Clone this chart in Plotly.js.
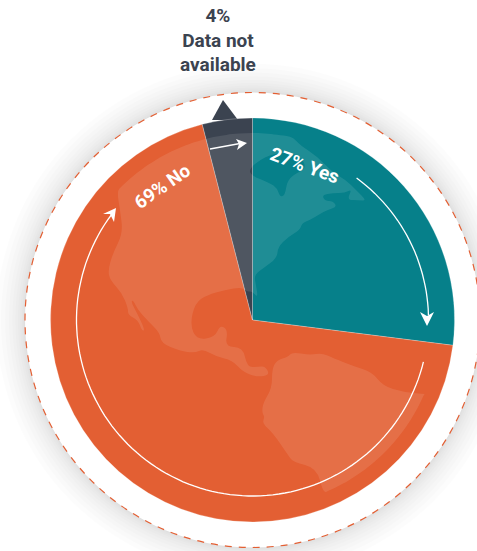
<!DOCTYPE html>
<html><head><meta charset="utf-8">
<script src="https://cdn.plot.ly/plotly-3.0.1.min.js"></script>
<style>
html,body{margin:0;padding:0;background:#fff;overflow:hidden}
#chart{position:absolute;left:0;top:0;width:477px;height:551px}
</style></head><body>
<div id="chart"></div>
<script>
// Data
const categories = ['Yes','No','Data not available'];
const values = [27,69,4];
const colors = ['#06808A','#E35F33','#3B4350'];

// Picture geometry
const W=477,H=551,CX=252.5,CY=320,R=202,GLOBE=187,ARC=176,RING=227.5;
const pt=(r,deg)=>{const a=deg*Math.PI/180;return [CX+r*Math.sin(a),CY-r*Math.cos(a)];};
const angle=(p)=>Math.atan2(p[0]-CX,CY-p[1])*180/Math.PI;
const arcPts=(r,a0,a1)=>{const n=Math.max(2,Math.ceil(Math.abs(a1-a0)/2));const o=[];for(let i=0;i<=n;i++)o.push(pt(r,a0+(a1-a0)*i/n));return o;};
const f=(p)=>p[0].toFixed(1)+','+p[1].toFixed(1);
const toPath=(pts,close)=>pts.map((p,i)=>(i?'L':'M')+f(p)).join('')+(close?'Z':'');
const smooth=(pts)=>{const n=pts.length,mid=(a,b)=>[(a[0]+b[0])/2,(a[1]+b[1])/2];let s='M'+f(mid(pts[n-1],pts[0]));
  for(let i=0;i<n;i++){s+='Q'+f(pts[i])+' '+f(mid(pts[i],pts[(i+1)%n]));}return s+'Z';};

// Decorative globe outlines (px)
const north=[
 ...arcPts(GLOBE,angle([118,192]),angle([293,138])),
 [300,145],[318,157],[332,172],[346,180],[356,190],[367,201],[358,200],[347,200],[352,189],[345,193],[333,193],[322,195],[325,201],[333,201],[337,207],[327,210],
 [320,214],[310,220],[302,223],[300,230],[288,237],[278,247],[277,258],[265,267],[254,275],[256,285],[258,298],[252,291],[247,292],[242,287],[225,290],[207,295],[195,303],[190,325],[197,340],[215,337],[220,325],[228,330],[225,347],[243,347],[247,367],[258,367],[265,366],[270,375],
 [257,377],[243,372],[232,360],[217,357],[203,349],[195,353],[180,351],[161,343],[160,333],[147,320],[138,310],[133,300],[131,302],[137,313],[145,330],[142,331],[138,320],[128,315],[128,308],[122,293],[110,280],[108,270],[113,253],[123,233],[120,210]
];
const hudson=[[250,175],[270,183],[277,188],[280,197],[285,195],[287,182],[293,175],[307,168],[300,156],[285,152],[270,155],[260,160],[250,168]];
const south=[
 [272,369],[277,360],[288,357],[292,352],[310,355],[322,353],[333,358],[353,366],[372,372],[383,386],[403,392],[425,394],
 ...arcPts(GLOBE,angle([425,394]),angle([323,493])),
 [317,468],[293,462],[288,455],[273,433],[262,423],[265,417],[262,413],[263,403],[272,388]
];

// Arrows
const head=(tip,wa,notch,wb)=>({type:'path',xref:'x',yref:'y',layer:'above',path:toPath([tip,wa,notch,wb],true),fillcolor:'#fff',line:{width:0}});
const stroke=(pts,w)=>({type:'path',xref:'x',yref:'y',layer:'above',path:toPath(pts,false),line:{color:'#fff',width:w||1.3}});
const land=(p)=>({type:'path',xref:'x',yref:'y',layer:'above',path:p,fillcolor:'rgba(255,255,255,0.1)',line:{width:0}});

const glow=[];
for(let i=12;i>=1;i--){const r=RING+i*i*0.2;
  glow.push({type:'circle',xref:'x',yref:'y',layer:'below',x0:CX-r,x1:CX+r,y0:CY-r,y1:CY+r,fillcolor:'rgba(0,0,0,0.011)',line:{width:0}});}

const shapes=[
 ...glow,
 {type:'circle',xref:'x',yref:'y',layer:'below',x0:CX-RING,x1:CX+RING,y0:CY-RING,y1:CY+RING,line:{color:'#E35F33',width:1.2,dash:'7px,7px'},fillcolor:'#fff'},
 {type:'path',xref:'x',yref:'y',layer:'below',path:toPath([[223,100],[212,120],[238,120]],true),fillcolor:colors[2],line:{width:0}},
 land(smooth(north)+smooth(hudson)),land(smooth(south)),
 stroke(arcPts(ARC,angle([356,179]),angle([427,315]))),
 head([427,326],[420,312],[427,316],[434,312]),
 stroke(arcPts(ARC,angle([424,362]),360+angle([110,214]))),
 head([116,208],[103,214],[110,214],[114,222]),
 stroke([[210,149],[240,143.5]]),
 head([247,143],[236,139],[239,144],[237,150])
];

const label=(txt,x,y,rot,size,color)=>({xref:'x',yref:'y',x,y,text:txt,textangle:rot,showarrow:false,xanchor:'center',yanchor:'middle',font:{family:'Roboto',size,color,weight:700}});

const annotations=[
 label(values[0]+'% '+categories[0],305,165,20,19,'#fff'),
 label(values[1]+'% '+categories[1],162,187,-35,18.6,'#fff'),
 label(values[2]+'%<br>Data not<br>available',218,40,0,19,colors[2])
];

Plotly.newPlot('chart',[
 {type:'scatter',x:[],y:[],hoverinfo:'skip',showlegend:false},
 {type:'pie',labels:categories,values:values,sort:false,direction:'clockwise',rotation:0,textinfo:'none',
  marker:{colors:colors,line:{color:'rgba(255,255,255,0.35)',width:0.7}},
  domain:{x:[(CX-R)/W,(CX+R)/W],y:[(H-CY-R)/H,(H-CY+R)/H]},showlegend:false}
],{
 width:W,height:H,margin:{l:0,r:0,t:0,b:0,pad:0},paper_bgcolor:'#fff',plot_bgcolor:'rgba(0,0,0,0)',
 showlegend:false,
 xaxis:{range:[0,W],visible:false,fixedrange:true},
 yaxis:{range:[H,0],visible:false,fixedrange:true},
 shapes,annotations
},{displayModeBar:false,staticPlot:true});
</script></body></html>
